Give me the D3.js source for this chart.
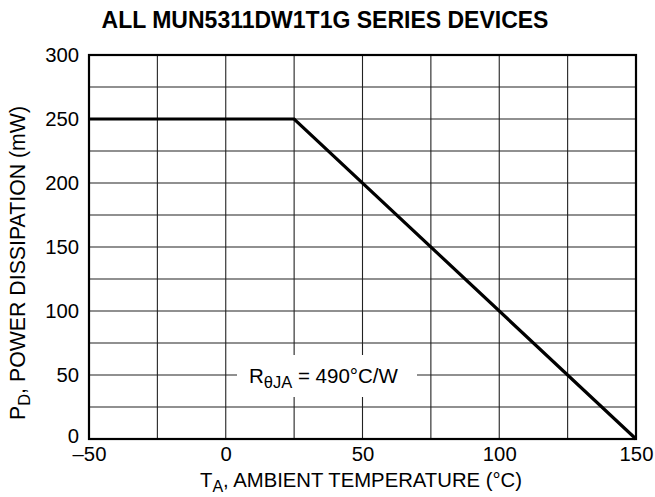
<!DOCTYPE html>
<html><head><meta charset="utf-8">
<script src="https://cdn.jsdelivr.net/npm/d3@7"></script>
<style>body{margin:0;background:#fff}svg{display:block;font-family:"Liberation Sans",Arial,sans-serif}</style>
</head><body>
<svg id="c" width="655" height="497"></svg>
<script>
const xTicks = [-50, 0, 50, 100, 150];
const yTicks = [0, 50, 100, 150, 200, 250, 300];
const xGrid = [-50, -25, 0, 25, 50, 75, 100, 125, 150];
const yGrid = [0, 25, 50, 75, 100, 125, 150, 175, 200, 225, 250, 275, 300];
const temps = [-50, 25, 150];
const power = [250, 250, 0];

const svg = d3.select("#c");
const L = 89, R = 636, T = 55, B = 439;
const x = d3.scaleLinear().domain([-50, 150]).range([L, R]);
const y = d3.scaleLinear().domain([0, 300]).range([B, T]);
const FS = 20.3, SUB = 16;

// grid
svg.append("g").selectAll("line").data(xGrid).join("line")
  .attr("x1", d => x(d)).attr("x2", d => x(d)).attr("y1", T).attr("y2", B)
  .attr("stroke", "#222").attr("stroke-width", 1.1);
svg.append("g").selectAll("line").data(yGrid).join("line")
  .attr("y1", d => y(d)).attr("y2", d => y(d)).attr("x1", L).attr("x2", R)
  .attr("stroke", "#222").attr("stroke-width", 1.1);

// label box
svg.append("rect").attr("x", 237).attr("y", 355).attr("width", 180).attr("height", 42).attr("fill", "#fff");
const lab = svg.append("text").attr("x", 249).attr("y", 383).attr("font-size", 20.5).attr("fill", "#000");
lab.append("tspan").text("R");
lab.append("tspan").attr("dy", 5).attr("font-size", 16.5).text("θJA");
lab.append("tspan").attr("dy", -5).text(" = 490°C/W");

// frame
svg.append("rect").attr("x", L).attr("y", T).attr("width", R - L).attr("height", B - T)
  .attr("fill", "none").attr("stroke", "#000").attr("stroke-width", 2.2);

// data line
const pts = temps.map((t, i) => [t, power[i]]);
svg.append("path").datum(pts)
  .attr("d", d3.line().x(d => x(d[0])).y(d => y(d[1])))
  .attr("fill", "none").attr("stroke", "#000").attr("stroke-width", 3.2);

// axes tick labels
const xAxis = d3.axisBottom(x).tickValues(xTicks).tickSize(0).tickPadding(8)
  .tickFormat(d => d < 0 ? "\u2013" + Math.abs(d) : d);
const gx = svg.append("g").attr("transform", `translate(0,${B})`).call(xAxis);
gx.select(".domain").remove();
gx.selectAll("text").attr("font-size", FS).attr("font-family", "Liberation Sans, Arial, sans-serif").attr("fill", "#000");

const yAxis = d3.axisLeft(y).tickValues(yTicks).tickSize(0).tickPadding(10);
const gy = svg.append("g").attr("transform", `translate(${L},0)`).call(yAxis);
gy.select(".domain").remove();
gy.selectAll("text").attr("font-size", FS).attr("font-family", "Liberation Sans, Arial, sans-serif").attr("fill", "#000");
gy.selectAll("text").filter(d => d === 0).attr("dy", "0.18em");

// title
svg.append("text").attr("x", 325).attr("y", 28).attr("text-anchor", "middle")
  .attr("font-size", 23).attr("font-weight", "bold").text("ALL MUN5311DW1T1G SERIES DEVICES");

// x axis title
const xt = svg.append("text").attr("x", 361).attr("y", 487).attr("text-anchor", "middle").attr("font-size", FS);
xt.append("tspan").text("T");
xt.append("tspan").attr("dy", 5).attr("font-size", SUB).text("A");
xt.append("tspan").attr("dy", -5).text(", AMBIENT TEMPERATURE (°C)");

// y axis title
const yt = svg.append("text").attr("transform", `translate(25,263) rotate(-90)`)
  .attr("text-anchor", "middle").attr("font-size", 21.3);
yt.append("tspan").text("P");
yt.append("tspan").attr("dy", 5).attr("font-size", 16.5).text("D");
yt.append("tspan").attr("dy", -5).text(", POWER DISSIPATION (mW)");
</script>
</body></html>
